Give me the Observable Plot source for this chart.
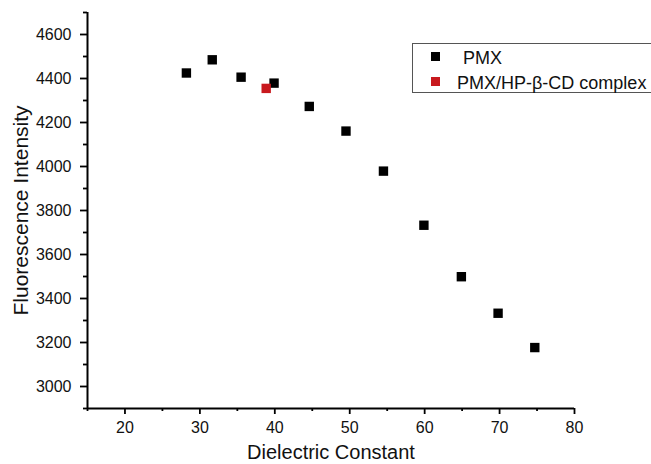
<!DOCTYPE html>
<html>
<head>
<meta charset="utf-8">
<script src="https://cdn.jsdelivr.net/npm/d3@7"></script>
<script src="https://cdn.jsdelivr.net/npm/@observablehq/plot@0.6"></script>
<style>
  html, body { margin: 0; padding: 0; background: #fff; overflow: hidden; }
  #wrap { position: relative; width: 651px; height: 464px; font-family: "Liberation Sans", Arial, sans-serif; }
  #legend { position: absolute; left: 412px; top: 43px; width: 260px; height: 50px;
            border: 1.5px solid #555; background: #fff; box-sizing: border-box; }
  .sw { position: absolute; width: 9px; height: 9px; }
  .lt { position: absolute; font-size: 18px; color: #111; white-space: nowrap; line-height: 1; }
</style>
</head>
<body>
<div id="wrap"></div>
<script>
// Data
const dielectricPMX = [28.2, 31.65, 35.5, 39.9, 44.6, 49.5, 54.5, 59.9, 64.9, 69.8, 74.7];
const intensityPMX  = [4425, 4485, 4406, 4379, 4273, 4161, 3979, 3733, 3499, 3333, 3177];
const dielectricComplex = [38.85];
const intensityComplex  = [4355];
const seriesNames = ["PMX", "PMX/HP-\u03B2-CD complex"];
const seriesColors = ["#000000", "#c8191e"];
const xMajorTicks = [20, 30, 40, 50, 60, 70, 80];
const xMinorTicks = [15, 25, 35, 45, 55, 65, 75];
const yMajorTicks = [3000, 3200, 3400, 3600, 3800, 4000, 4200, 4400, 4600];
const yMinorTicks = [2900, 3100, 3300, 3500, 3700, 3900, 4100, 4300, 4500, 4700];
const xTitle = "Dielectric Constant";
const yTitle = "Fluorescence Intensity";

const pmx = dielectricPMX.map((x, i) => ({x, y: intensityPMX[i]}));
const cpx = dielectricComplex.map((x, i) => ({x, y: intensityComplex[i]}));

const chart = Plot.plot({
  width: 651,
  height: 464,
  marginLeft: 87,
  marginRight: 77,
  marginTop: 12,
  marginBottom: 56,
  style: {fontFamily: "'Liberation Sans', Arial, sans-serif", color: "#111", background: "#fff"},
  x: {domain: [15, 80]},
  y: {domain: [2900, 4700]},
  marks: [
    Plot.axisX(xMinorTicks, {tickSize: 3, tickFormat: () => "", stroke: "#000", strokeWidth: 1.8, label: null}),
    Plot.axisX(xMajorTicks, {tickSize: 6, tickPadding: 7, fontSize: 16, stroke: "#000", strokeWidth: 1.8, fill: "#111", label: null}),
    Plot.axisY(yMinorTicks, {tickSize: 4, tickFormat: () => "", stroke: "#000", strokeWidth: 1.8, label: null}),
    Plot.axisY(yMajorTicks, {tickSize: 7, tickPadding: 9, fontSize: 16, stroke: "#000", strokeWidth: 1.8, fill: "#111", label: null, tickFormat: d => String(d)}),
    Plot.ruleY([2900], {stroke: "#000", strokeWidth: 2}),
    Plot.ruleX([15], {stroke: "#000", strokeWidth: 2}),
    Plot.dot(pmx, {x: "x", y: "y", symbol: "square", r: 5.3, fill: seriesColors[0], stroke: null}),
    Plot.dot(cpx, {x: "x", y: "y", symbol: "square", r: 5.3, fill: seriesColors[1], stroke: null}),
    Plot.text([xTitle], {frameAnchor: "bottom", dy: 44, fontSize: 20, lineAnchor: "middle", fill: "#111"}),
    Plot.text([yTitle], {frameAnchor: "left", dx: -66, rotate: -90, fontSize: 21, lineAnchor: "middle", textAnchor: "middle", fill: "#111"})
  ]
});

const wrap = document.getElementById("wrap");
wrap.appendChild(chart);

// Legend (positioned over the plot, clipped on the right like the reference)
const legend = document.createElement("div");
legend.id = "legend";
const items = [
  {sx: 434 - 412 - 4.5, sy: 55 - 43 - 4.5, tx: 462 - 412, ty: 48 - 43},
  {sx: 434 - 412 - 4.5, sy: 80 - 43 - 4.5, tx: 456 - 412, ty: 73 - 43}
];
seriesNames.forEach((name, i) => {
  const sw = document.createElement("div");
  sw.className = "sw";
  sw.style.left = items[i].sx + "px";
  sw.style.top = items[i].sy + "px";
  sw.style.background = seriesColors[i];
  legend.appendChild(sw);
  const t = document.createElement("div");
  t.className = "lt";
  t.style.left = items[i].tx + "px";
  t.style.top = items[i].ty + "px";
  t.textContent = name;
  legend.appendChild(t);
});
wrap.appendChild(legend);
</script>
</body>
</html>
